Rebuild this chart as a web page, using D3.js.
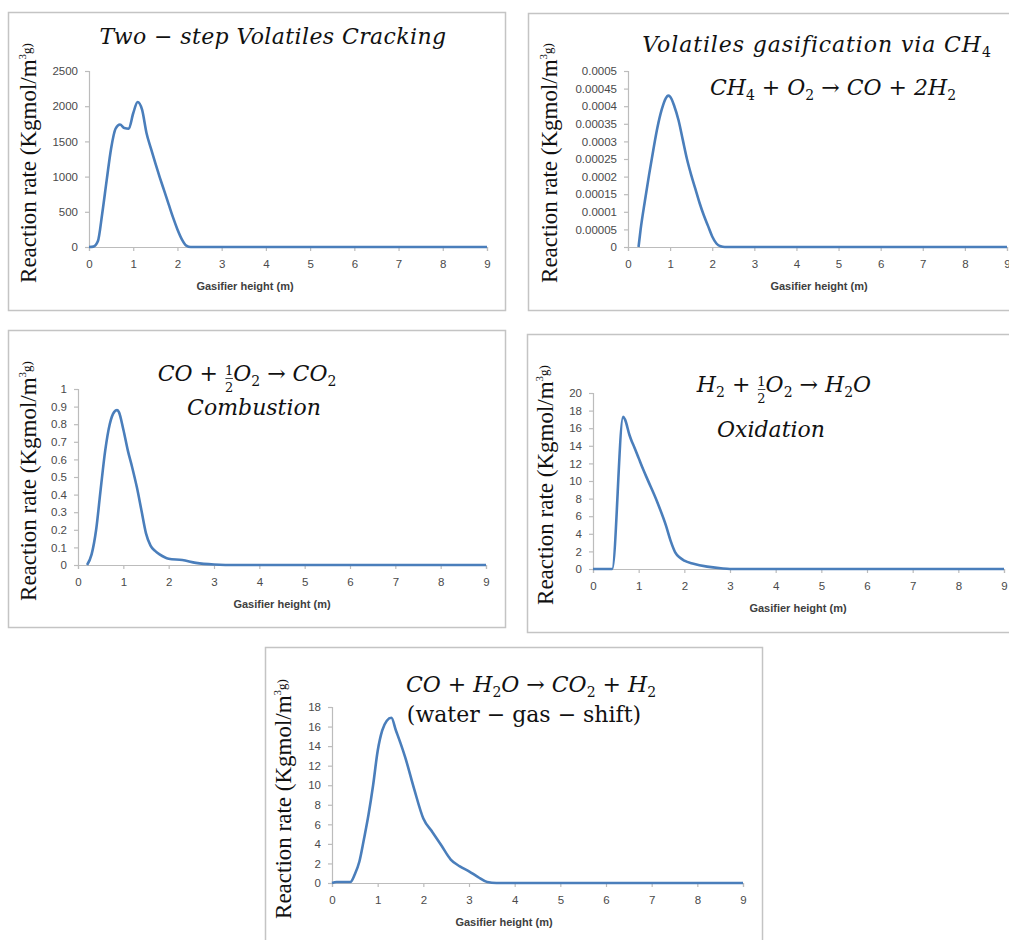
<!DOCTYPE html>
<html>
<head>
<meta charset="utf-8">
<script src="https://cdn.jsdelivr.net/npm/d3@7/dist/d3.min.js"></script>
<style>
	body { margin: 0; background: #fff; }
	svg { display: block; }
</style>
</head>
<body>
<svg></svg>
<script>
const width = 1009;
const height = 940;

// x axis is the same for all five charts
const heightTicks = [0, 1, 2, 3, 4, 5, 6, 7, 8, 9];

// two-step volatiles cracking
const crackH    = [0, 0.1, 0.2, 0.3, 0.4, 0.5, 0.6, 0.7, 0.8, 0.9, 1.0, 1.1, 1.2, 1.3, 1.4, 1.5, 1.6, 1.7, 1.8, 1.9, 2.0, 2.1, 2.2, 2.3, 3, 4, 5, 6, 7, 8, 9];
const crackRate = [0, 5, 80, 480, 950, 1400, 1680, 1740, 1690, 1680, 1900, 2060, 1950, 1620, 1400, 1190, 990, 800, 610, 420, 250, 110, 20, 0, 0, 0, 0, 0, 0, 0, 0];
const crackTicks = [0, 500, 1000, 1500, 2000, 2500];

// volatiles gasification via CH4
const ch4H    = [0.25, 0.3, 0.4, 0.5, 0.6, 0.7, 0.8, 0.9, 0.95, 1.0, 1.1, 1.2, 1.3, 1.4, 1.5, 1.6, 1.7, 1.8, 1.9, 2.0, 2.1, 2.2, 2.3, 3, 4, 5, 6, 7, 8, 9];
const ch4Rate = [0, 0.00005, 0.00013, 0.000205, 0.000275, 0.00034, 0.00039, 0.000423, 0.00043, 0.000427, 0.0004, 0.00036, 0.000305, 0.00025, 0.000205, 0.000165, 0.000125, 0.00009, 0.00006, 0.00003, 0.00001, 0.000002, 0, 0, 0, 0, 0, 0, 0, 0];
const ch4Ticks = [0, 0.00005, 0.0001, 0.00015, 0.0002, 0.00025, 0.0003, 0.00035, 0.0004, 0.00045, 0.0005];

// CO combustion
const coH    = [0.2, 0.3, 0.4, 0.5, 0.6, 0.7, 0.8, 0.86, 0.9, 1.0, 1.1, 1.2, 1.3, 1.4, 1.5, 1.6, 1.7, 1.8, 2.0, 2.3, 2.6, 3.0, 3.5, 4, 5, 6, 7, 8, 9];
const coRate = [0, 0.06, 0.2, 0.43, 0.65, 0.8, 0.87, 0.88, 0.87, 0.77, 0.65, 0.55, 0.44, 0.31, 0.18, 0.11, 0.08, 0.06, 0.035, 0.028, 0.012, 0.003, 0, 0, 0, 0, 0, 0, 0];
const coTicks = [0, 0.1, 0.2, 0.3, 0.4, 0.5, 0.6, 0.7, 0.8, 0.9, 1];

// H2 oxidation
const h2H    = [0, 0.42, 0.66, 0.7, 0.8, 0.85, 0.9, 1.0, 1.1, 1.2, 1.4, 1.6, 1.7, 1.8, 1.9, 2.0, 2.2, 2.5, 2.8, 3.0, 4, 5, 6, 7, 8, 9];
const h2Rate = [0, 0, 17.3, 17.0, 15.2, 14.5, 13.9, 12.6, 11.3, 10.1, 7.7, 4.9, 3.2, 1.9, 1.3, 0.95, 0.6, 0.27, 0.08, 0, 0, 0, 0, 0, 0, 0];
const h2Ticks = [0, 2, 4, 6, 8, 10, 12, 14, 16, 18, 20];

// water-gas shift
const wgsH    = [0, 0.1, 0.2, 0.3, 0.4, 0.5, 0.6, 0.7, 0.8, 0.9, 1.0, 1.1, 1.2, 1.3, 1.4, 1.5, 1.6, 1.8, 2.0, 2.2, 2.4, 2.6, 2.8, 3.0, 3.2, 3.4, 3.6, 4, 5, 6, 7, 8, 9];
const wgsRate = [0, 0.1, 0.1, 0.1, 0.1, 0.9, 2.2, 4.5, 7.0, 10.0, 13.5, 15.6, 16.6, 16.9, 15.6, 14.3, 12.9, 9.6, 6.6, 5.2, 3.8, 2.4, 1.7, 1.2, 0.6, 0.1, 0, 0, 0, 0, 0, 0, 0];
const wgsTicks = [0, 2, 4, 6, 8, 10, 12, 14, 16, 18];

const lineColor = '#4a7ebb';
const axisColor = '#bcbcbc';
const tickText = '#4a4a4a';

const svg = d3.select('svg')
	.attr('width', width)
	.attr('height', height);

// title pieces: t = text, sub = subscript, half = stacked 1/2
const panels = [
	{
		box: [8, 12, 497, 298], plot: [89, 487, 71, 247], yTitleX: 36, xTitleX: 245,
		h: crackH, rate: crackRate, ticks: crackTicks,
		titles: [
			{ x: 273, y: 44, italic: true, ls: 0.4, parts: [{ t: 'Two − step Volatiles Cracking' }] }
		]
	},
	{
		box: [528, 13, 520, 297], plot: [628, 1007, 71, 247], yTitleX: 557, xTitleX: 819,
		h: ch4H, rate: ch4Rate, ticks: ch4Ticks,
		titles: [
			{ x: 817, y: 52, italic: true, ls: 0.9, parts: [{ t: 'Volatiles gasification via CH' }, { sub: '4' }] },
			{ x: 833, y: 95, italic: true, parts: [{ t: 'CH' }, { sub: '4' }, { t: ' + O' }, { sub: '2' }, { t: ' → CO + 2H' }, { sub: '2' }] }
		]
	},
	{
		box: [8, 330, 497, 297], plot: [78, 486, 389, 565], yTitleX: 36, xTitleX: 282,
		h: coH, rate: coRate, ticks: coTicks,
		titles: [
			{ x: 247, y: 381, italic: true, parts: [{ t: 'CO + ' }, { half: true }, { t: 'O' }, { sub: '2' }, { t: ' → CO' }, { sub: '2' }] },
			{ x: 254, y: 415, italic: true, parts: [{ t: 'Combustion' }] }
		]
	},
	{
		box: [527, 334, 520, 298], plot: [593, 1004, 393, 569], yTitleX: 553, xTitleX: 798,
		h: h2H, rate: h2Rate, ticks: h2Ticks,
		titles: [
			{ x: 784, y: 392, italic: true, parts: [{ t: 'H' }, { sub: '2' }, { t: ' + ' }, { half: true }, { t: 'O' }, { sub: '2' }, { t: ' → H' }, { sub: '2' }, { t: 'O' }] },
			{ x: 771, y: 437, italic: true, parts: [{ t: 'Oxidation' }] }
		]
	},
	{
		box: [265, 647, 497, 320], plot: [332, 743, 707, 883], yTitleX: 291, xTitleX: 504,
		h: wgsH, rate: wgsRate, ticks: wgsTicks,
		titles: [
			{ x: 531, y: 692, italic: true, parts: [{ t: 'CO + H' }, { sub: '2' }, { t: 'O → CO' }, { sub: '2' }, { t: ' + H' }, { sub: '2' }] },
			{ x: 524, y: 722, italic: false, parts: [{ t: '(water − gas − shift)' }] }
		]
	}
];

function drawTitle(g, title) {
	const text = g.append('text')
		.attr('x', title.x)
		.attr('y', title.y)
		.attr('text-anchor', 'middle')
		.attr('font-family', 'DejaVu Serif')
		.attr('font-style', title.italic ? 'italic' : 'normal')
		.attr('font-size', 22)
		.attr('letter-spacing', title.ls || 0)
		.attr('fill', '#111');

	let shift = 0;
	const halves = [];
	title.parts.forEach(p => {
		if (p.t) {
			text.append('tspan').attr('dy', -shift).text(p.t);
			shift = 0;
		} else if (p.sub) {
			text.append('tspan')
				.attr('dy', 5 - shift)
				.attr('font-size', 14)
				.attr('font-style', 'normal')
				.text(p.sub);
			shift = 5;
		} else if (p.half) {
			const one = text.append('tspan')
				.attr('dy', -6 - shift)
				.attr('font-size', 13)
				.attr('font-style', 'normal')
				.text('1');
			text.append('tspan')
				.attr('dx', -8.3)
				.attr('dy', 17)
				.attr('font-size', 13)
				.attr('font-style', 'normal')
				.text('2');
			halves.push(one);
			shift = 11;
		}
	});

	// fraction bars
	halves.forEach(one => {
		const pos = one.node().getStartPositionOfChar(0);
		g.append('line')
			.attr('x1', pos.x + 0.5)
			.attr('x2', pos.x + 8)
			.attr('y1', title.y - 2.5)
			.attr('y2', title.y - 2.5)
			.attr('stroke', '#333')
			.attr('stroke-width', 0.9);
	});
}

function drawPanel(p) {
	const g = svg.append('g');
	const [bx, by, bw, bh] = p.box;
	const [x0, x1, yTop, yBottom] = p.plot;

	g.append('rect')
		.attr('x', bx + 0.5)
		.attr('y', by + 0.5)
		.attr('width', bw)
		.attr('height', bh)
		.attr('fill', '#fff')
		.attr('stroke', '#c4c4c4')
		.attr('stroke-width', 1.5);

	const x = d3.scaleLinear().domain([0, 9]).range([x0, x1]);
	const y = d3.scaleLinear()
		.domain([0, d3.max(p.ticks)])
		.range([yBottom, yTop]);

	const yAxis = g.append('g')
		.attr('transform', `translate(${x0},0)`)
		.call(d3.axisLeft(y)
			.tickValues(p.ticks)
			.tickSize(4)
			.tickPadding(7)
			.tickFormat(d => String(+d.toFixed(6))));

	const xAxis = g.append('g')
		.attr('transform', `translate(0,${yBottom})`)
		.call(d3.axisBottom(x)
			.tickValues(heightTicks)
			.tickSize(4)
			.tickPadding(9)
			.tickFormat(d3.format('d')));

	[xAxis, yAxis].forEach(a => {
		a.select('.domain').attr('stroke', axisColor).attr('stroke-width', 1.2);
		a.selectAll('.tick line').attr('stroke', axisColor).attr('stroke-width', 1.2);
		a.selectAll('.tick text')
			.attr('fill', tickText)
			.attr('font-family', 'Liberation Sans')
			.attr('font-size', 11.5);
	});

	g.append('text')
		.attr('x', p.xTitleX)
		.attr('y', yBottom + 43)
		.attr('text-anchor', 'middle')
		.attr('font-family', 'Liberation Sans')
		.attr('font-weight', 'bold')
		.attr('font-size', 11)
		.attr('fill', '#404040')
		.text('Gasifier height (m)');

	const yt = g.append('text')
		.attr('transform', `translate(${p.yTitleX},${(yTop + yBottom) / 2 + 4}) rotate(-90)`)
		.attr('text-anchor', 'middle')
		.attr('font-family', 'Liberation Serif')
		.attr('font-size', 23)
		.attr('fill', '#111');
	yt.append('tspan').text('Reaction rate (Kgmol/m');
	yt.append('tspan').attr('font-size', 11).attr('dy', -10).text('3');
	yt.append('tspan').attr('font-size', 13).attr('dy', 5).text('g)');

	const line = d3.line()
		.x((d, i) => x(p.h[i]))
		.y(d => y(d))
		.curve(d3.curveMonotoneX);

	g.append('path')
		.datum(p.rate)
		.attr('fill', 'none')
		.attr('stroke', lineColor)
		.attr('stroke-width', 2.6)
		.attr('stroke-linejoin', 'round')
		.attr('d', line);

	p.titles.forEach(t => drawTitle(g, t));
}

panels.forEach(drawPanel);
</script>
</body>
</html>
